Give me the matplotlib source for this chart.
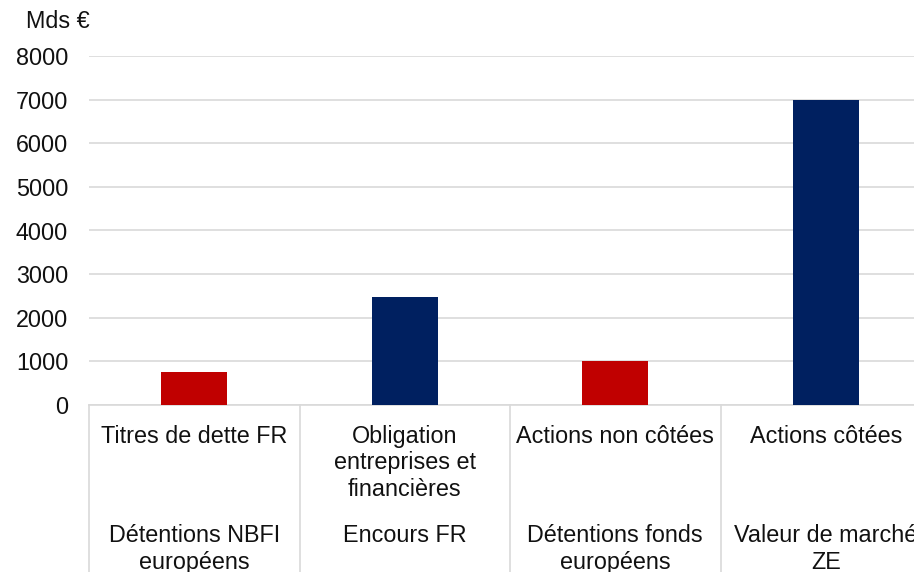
# Bar chart: Mds € by asset category (two-level category axis)

import matplotlib
matplotlib.use("Agg")
import matplotlib.pyplot as plt

# ----------------------------
# Data
# ----------------------------

categories = ["Titres de dette FR", "Obligation\nentreprises et\nfinancières",
              "Actions non côtées", "Actions côtées"]
sub_labels = ["Détentions NBFI\neuropéens", "Encours FR",
              "Détentions fonds\neuropéens", "Valeur de marché\nZE"]
values = [760, 2470, 1000, 7000]
bar_colors = ["#C00000", "#002060", "#C00000", "#002060"]
y_ticks = [0, 1000, 2000, 3000, 4000, 5000, 6000, 7000, 8000]

# ----------------------------
# Figure
# ----------------------------

plt.rcParams["font.family"] = ["Liberation Sans", "DejaVu Sans"]
FS = 16.8
GRID = "#d9d9d9"
TXT = "#111111"

W, H = 914, 572
fig = plt.figure(figsize=(W / 100, H / 100), dpi=100)
left, right, bottom, top = 89, 931, 405, 56
ax = fig.add_axes([left / W, 1 - bottom / H, (right - left) / W, (bottom - top) / H])

x = list(range(len(categories)))
ax.bar(x, values, width=0.314, color=bar_colors, zorder=3)

ax.set_xlim(-0.5, len(categories) - 0.5)
ax.set_ylim(0, 8000)
ax.set_yticks(y_ticks)
ax.set_yticklabels([str(t) for t in y_ticks], fontsize=FS, color=TXT)
ax.tick_params(axis="y", length=0, pad=15)
ax.set_xticks([])

ax.grid(axis="y", color=GRID, linewidth=1.2, zorder=0)
for s in ["top", "right", "left"]:
    ax.spines[s].set_visible(False)
ax.spines["bottom"].set_color(GRID)
ax.spines["bottom"].set_linewidth(1.2)

# category separators running through both label rows
tr = ax.get_xaxis_transform()
for i in range(len(categories) + 1):
    ax.plot([i - 0.5, i - 0.5], [0, -0.5], transform=tr, color=GRID,
            linewidth=1.2, clip_on=False)

# two-level category labels
for i in x:
    ax.text(i, -0.057, categories[i], transform=tr, ha="center", va="top",
            fontsize=FS, linespacing=1.2, color=TXT)
    ax.text(i, -0.342, sub_labels[i], transform=tr, ha="center", va="top",
            fontsize=FS, linespacing=1.2, color=TXT)

fig.text(26 / W, 1 - 22 / H, "Mds €", ha="left", va="center",
         fontsize=FS, color=TXT)

fig.savefig("out.png", dpi=100)
plt.close(fig)
